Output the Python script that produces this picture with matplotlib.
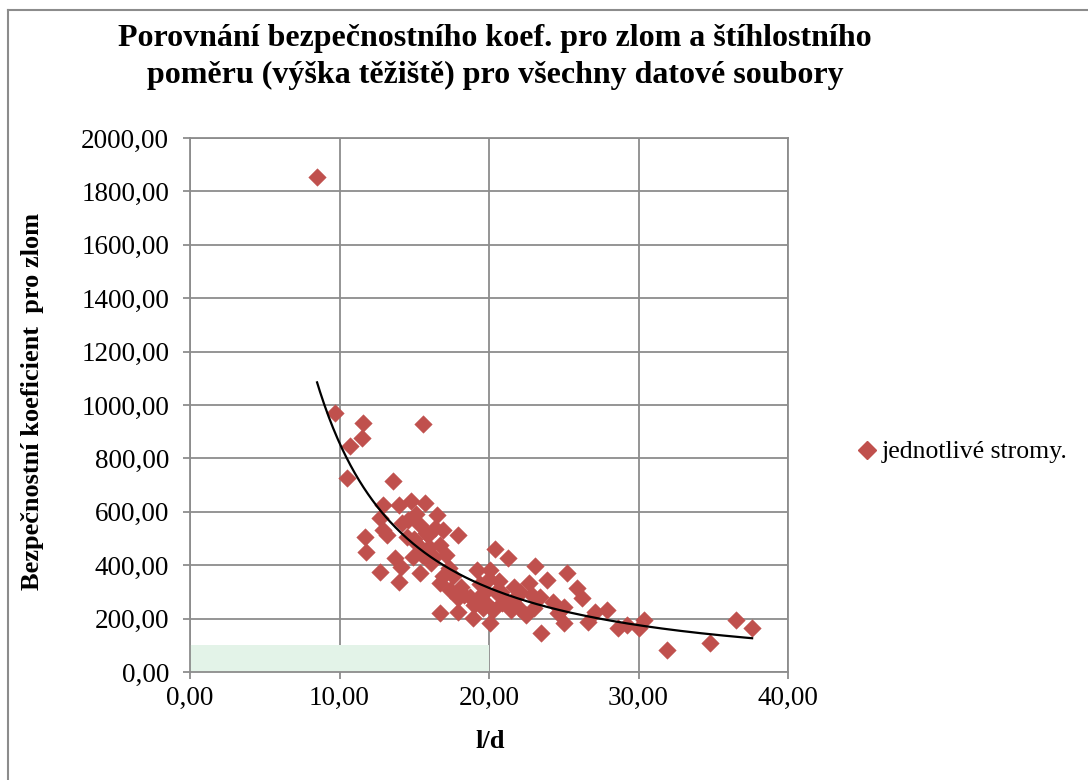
import matplotlib
matplotlib.use("Agg")
import matplotlib.pyplot as plt
import numpy as np
from matplotlib.lines import Line2D

title = "Porovnání bezpečnostního koef. pro zlom a štíhlostního\npoměru (výška těžiště) pro všechny datové soubory"
xlabel = "l/d"
ylabel = "Bezpečnostní koeficient  pro zlom"
series_name = "jednotlivé stromy."

ld = [8.5, 9.7, 10.5, 10.7, 11.5, 11.6, 11.7, 11.8, 12.7, 12.7, 12.9, 12.9, 13.2, 13.6,
      13.7, 14.0, 14.0, 14.2, 14.1, 14.5, 14.8, 14.9, 15.4, 15.4, 15.6, 15.7, 15.2, 15.9,
      16.1, 16.0, 16.5, 16.7, 16.7, 16.7, 16.9, 17.1, 17.4, 17.6, 17.9, 17.9, 17.9, 18.3,
      18.7, 18.9, 19.2, 19.0, 19.4, 19.7, 19.6, 20.1, 20.0, 20.1, 20.3, 20.4, 20.5, 20.7,
      20.9, 21.3, 21.5, 21.8, 22.1, 22.5, 22.7, 23.1, 23.4, 23.5, 23.9, 24.3, 25.0, 25.0,
      25.2, 25.9, 26.2, 26.6, 27.1, 27.9, 28.6, 29.2, 30.0, 30.4, 31.9, 34.8, 36.5, 37.6,
      15.0, 15.5, 16.3, 15.8, 14.6, 16.9, 17.3, 18.1, 19.3, 20.8, 21.2, 22.0, 22.9, 21.7,
      19.8, 24.6, 23.0, 15.1, 16.4]
koef = [1855, 970, 727, 846, 876, 933, 506, 449, 577, 375, 625, 532, 513, 715,
        427, 625, 337, 558, 395, 506, 640, 431, 550, 371, 929, 632, 480, 513,
        408, 470, 588, 476, 333, 221, 532, 440, 307, 360, 513, 277, 225, 290,
        281, 202, 382, 250, 330, 300, 240, 382, 350, 183, 232, 460, 300, 340,
        260, 427, 232, 280, 300, 213, 333, 397, 281, 146, 345, 262, 185, 243,
        371, 315, 277, 187, 225, 232, 165, 176, 165, 195, 82, 108, 195, 165,
        500, 440, 430, 520, 570, 360, 390, 320, 280, 300, 260, 240, 290, 320,
        260, 220, 240, 590, 540]

zone_x = [0, 20]
zone_y = 100

xticks = [0, 10, 20, 30, 40]
yticks = [0, 200, 400, 600, 800, 1000, 1200, 1400, 1600, 1800, 2000]

red = "#C0504D"
grid_c = "#8C8C8C"
serif = ["Liberation Serif", "DejaVu Serif"]

fig = plt.figure(figsize=(10.88, 7.8), dpi=100)
ax = fig.add_axes([190/1088, 1-672/780, (788-190)/1088, (672-138)/780])

# chart border
fig.add_artist(Line2D([8/1088, 8/1088], [0, 1-10/780], color="#8C8C8C", lw=1.5, transform=fig.transFigure))
fig.add_artist(Line2D([8/1088, 1], [1-10/780, 1-10/780], color="#8C8C8C", lw=1.5, transform=fig.transFigure))

ax.fill_between(zone_x, 0, zone_y, color="#E3F3E8", lw=0, zorder=1)

x = np.array(ld)
y = np.array(koef)
ax.scatter(x, y, marker="D", s=80, color=red, edgecolor=red, lw=0.3, zorder=3)

# power trendline (least squares in log-log space)
b, lna = np.polyfit(np.log(x), np.log(y), 1)
xt = np.linspace(x.min(), x.max(), 300)
ax.plot(xt, np.exp(lna) * xt ** b, color="black", lw=1.6, zorder=4)

ax.set_xlim(0, 40)
ax.set_ylim(0, 2000)
ax.set_xticks(xticks)
ax.set_yticks(yticks)
ax.set_xticklabels([f"{v:.2f}".replace(".", ",") for v in xticks], fontfamily=serif, fontsize=19.5)
ax.set_yticklabels([f"{v:.2f}".replace(".", ",") for v in yticks], fontfamily=serif, fontsize=19.5)
ax.tick_params(axis="both", direction="out", length=5, width=1.3, color=grid_c)
ax.tick_params(axis="x", pad=5)
ax.tick_params(axis="y", pad=10)
ax.grid(True, color=grid_c, lw=1.3, zorder=0)
ax.set_axisbelow(True)
for s in ax.spines.values():
    s.set_color(grid_c)
    s.set_linewidth(1.3)

fig.text(495/1088, 1-57/780, title, ha="center", va="center", fontfamily=serif,
         fontsize=23, fontweight="bold", linespacing=1.32)
fig.text(33/1088, 1-401/780, ylabel, rotation=90, ha="center", va="center",
         fontfamily=serif, fontsize=19, fontweight="bold")
fig.text(490/1088, 1-742/780, xlabel, ha="center", va="center",
         fontfamily=serif, fontsize=19, fontweight="bold")

# legend
fig.legend(handles=[Line2D([], [], marker="D", ls="none", color=red, markersize=9)],
           labels=[series_name], loc="center left", bbox_to_anchor=(841/1088, 1-452/780),
           frameon=False, prop={"family": serif, "size": 18.5}, handletextpad=0.0,
           handlelength=1.2, borderaxespad=0)

fig.savefig("out.png", dpi=100)
